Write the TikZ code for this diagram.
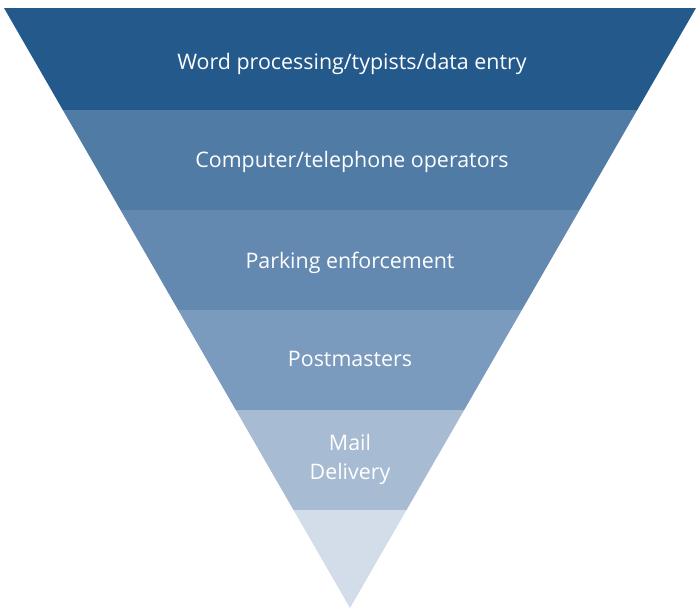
\documentclass[tikz,border=0pt]{standalone}
\usepackage{fontspec}
\setmainfont{Open Sans}
\definecolor{bandA}{RGB}{36,89,140}
\definecolor{bandB}{RGB}{79,123,165}
\definecolor{bandC}{RGB}{99,137,177}
\definecolor{bandD}{RGB}{123,155,190}
\definecolor{bandE}{RGB}{167,187,211}
\definecolor{bandF}{RGB}{211,221,233}
\tikzset{label text/.style={text=white,font=\fontsize{21.4}{29}\selectfont,align=center}}
\begin{document}
\begin{tikzpicture}[x=1pt,y=-1pt]
\useasboundingbox (0,0) rectangle (696,610);
\begin{scope}
\clip (4,8) -- (696,8) -- (350,608) -- cycle;
\fill[bandA] (0,8) rectangle (700,110);
\fill[bandB] (0,110) rectangle (700,210);
\fill[bandC] (0,210) rectangle (700,310);
\fill[bandD] (0,310) rectangle (700,410);
\fill[bandE] (0,410) rectangle (700,510);
\fill[bandF] (0,510) rectangle (700,610);
\end{scope}
\node[label text] (word) at (352,63.5) {Word processing/typists/data entry};
\node[label text] (computer) at (352,161.5) {Computer/telephone operators};
\node[label text] (parking) at (350,262.5) {Parking enforcement};
\node[label text] (postmasters) at (350,358.5) {Postmasters};
\node[label text] (mail) at (350,459) {Mail\\Delivery};
\end{tikzpicture}
\end{document}
